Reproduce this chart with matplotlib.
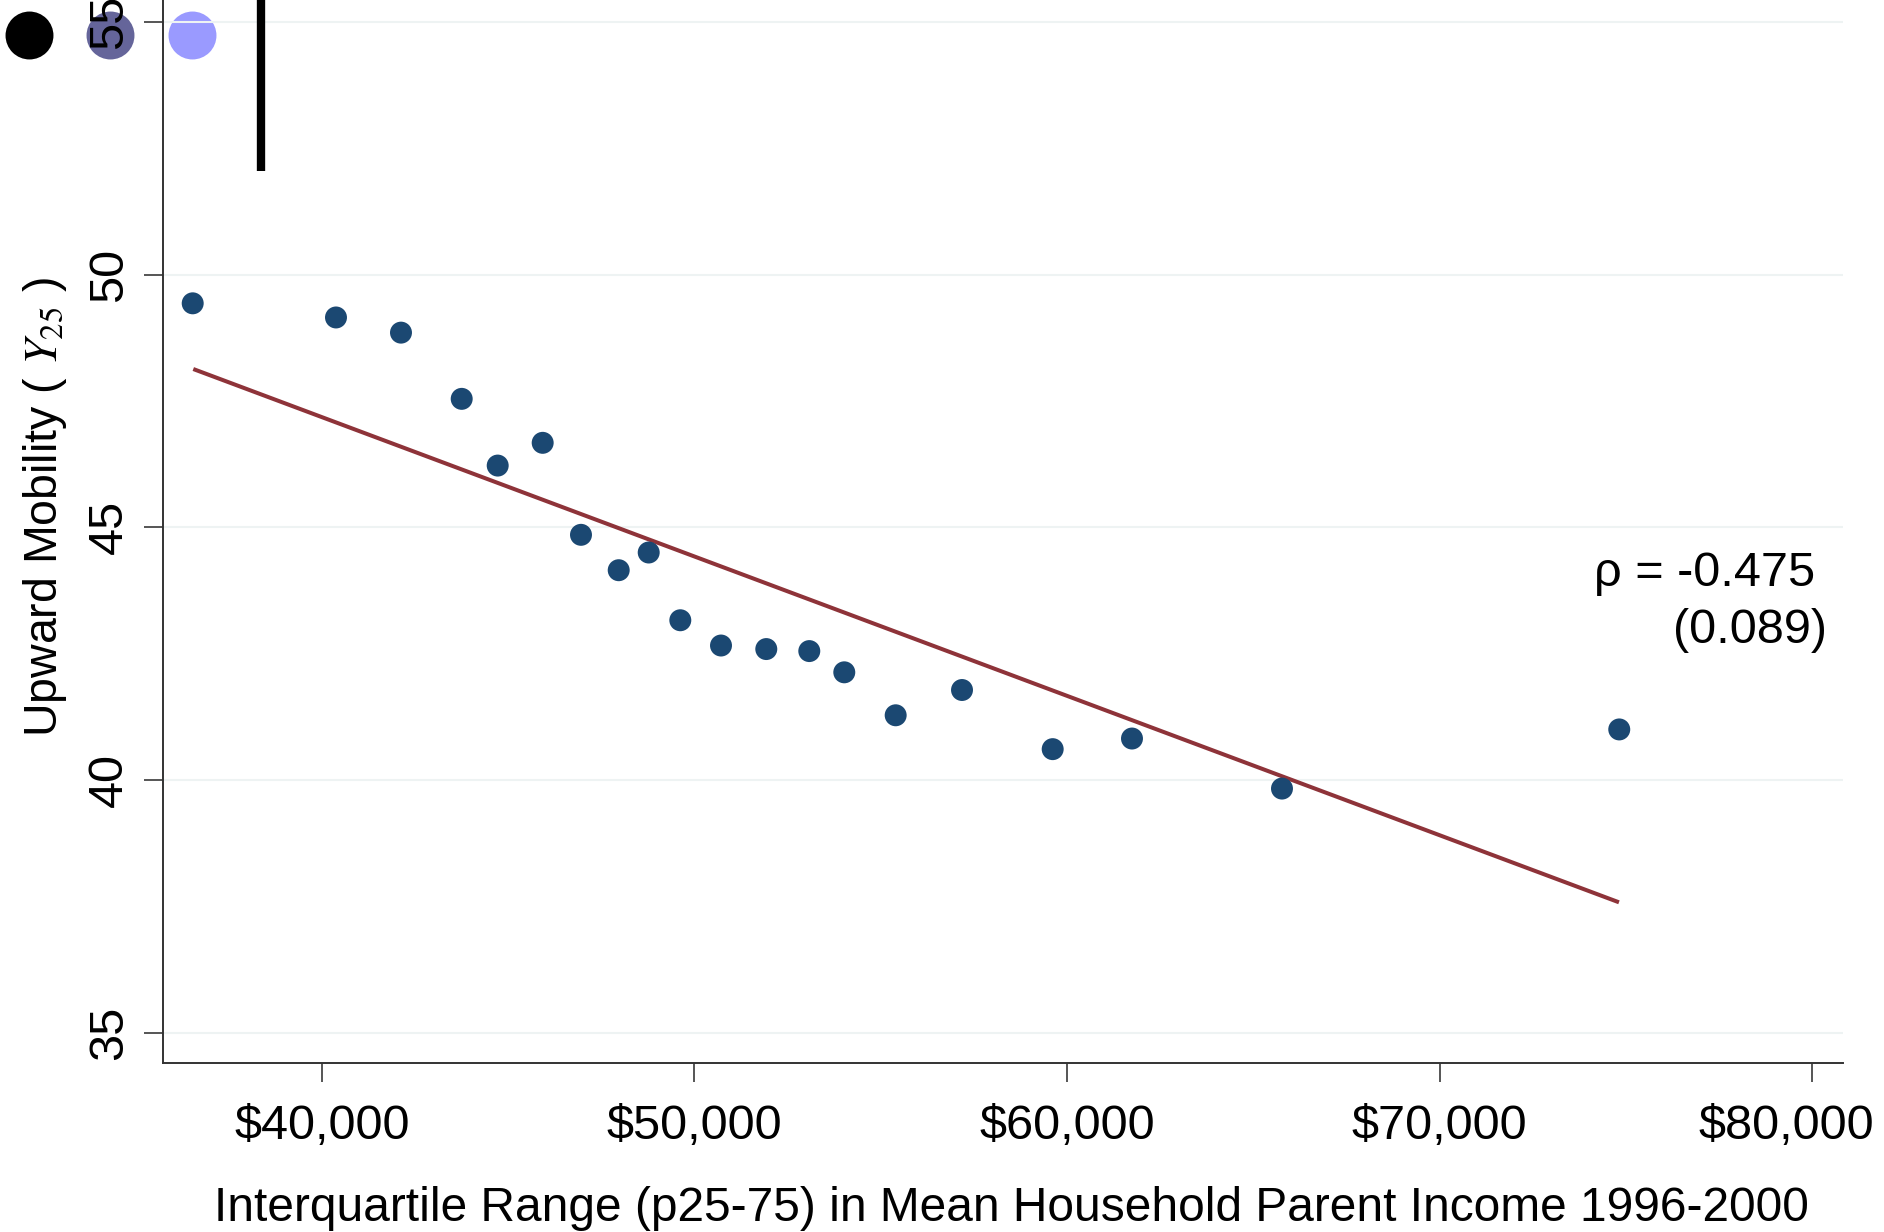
import matplotlib
matplotlib.use("Agg")
import matplotlib.pyplot as plt
from matplotlib.lines import Line2D
import matplotlib.transforms as mtransforms
import numpy as np

# ---- data ----
income = [36536, 40381, 42125, 43754, 44720, 45927, 46955, 47967, 48772, 49620,
          50712, 51927, 53081, 54020, 55399, 57179, 59612, 61740, 65765, 74815]
mobility = [49.43, 49.15, 48.85, 47.54, 46.22, 46.67, 44.85, 44.15, 44.50, 43.16,
            42.66, 42.59, 42.55, 42.13, 41.28, 41.78, 40.61, 40.82, 39.83, 41.00]
fit_x = [36552, 74807]
fit_y = [48.13, 37.58]
xticks = [40000, 50000, 60000, 70000, 80000]
xtick_labels = ["$40,000", "$50,000", "$60,000", "$70,000", "$80,000"]
yticks = [35, 40, 45, 50, 55]
ytick_labels = ["35", "40", "45", "50", "55"]
rho_text = "\u03c1 = -0.475"
se_text = "(0.089)"

plt.rcParams['font.family'] = ['Liberation Sans', 'DejaVu Sans']
plt.rcParams['mathtext.fontset'] = 'stix'

W, H = 1884, 1232
fig = plt.figure(figsize=(W / 100, H / 100), dpi=100)
fig.patch.set_facecolor('white')

left_px, right_px, bottom_px, top_px = 162.7, 1842.6, 1063.3, -49.0
ax = fig.add_axes([left_px / W, (H - bottom_px) / H,
                   (right_px - left_px) / W, (bottom_px - top_px) / H])
ax.patch.set_visible(False)

ax.set_xlim(35731, 80808)
ax.set_ylim(34.395, 56.40)

for yv in yticks:
    ax.axhline(yv, color='#eef3f3', lw=1.5, zorder=0)

ax.plot(fit_x, fit_y, color='#8e3339', lw=2.9, zorder=2, solid_capstyle='butt')
ax.scatter(income, mobility, s=250, color='#1b4872', edgecolors='none', zorder=3)

ax.text(80066, 43.83, rho_text, fontsize=35, ha='right', va='baseline')
ax.text(80388, 42.71, se_text, fontsize=35, ha='right', va='baseline')

ax.set_xticks(xticks)
ax.set_xticklabels(xtick_labels, fontsize=35)
ax.set_yticks(yticks)
ax.set_yticklabels(ytick_labels, fontsize=35, rotation=90, va='center')

ax.tick_params(axis='both', direction='out', length=14, width=1.4, color='#555555')
ax.tick_params(axis='x', pad=15)
ax.tick_params(axis='y', pad=8)

# last x tick label is pulled inward so it fits in the figure
last = ax.get_xticklabels()[-1]
last.set_transform(last.get_transform() +
                   mtransforms.ScaledTranslation(-26 / 100, 0, fig.dpi_scale_trans))

for side in ['top', 'right']:
    ax.spines[side].set_visible(False)
for side in ['left', 'bottom']:
    ax.spines[side].set_color('#333333')
    ax.spines[side].set_linewidth(1.4)

ax.set_xlabel("Interquartile Range (p25-75) in Mean Household Parent Income 1996-2000",
              fontsize=34.5, labelpad=27)
ax.xaxis.label.set_x(0.505)
ax.set_ylabel("Upward Mobility ( $Y_{25}$ )", fontsize=33.5, labelpad=13)

# ---- stray legend-like artifacts at the top left ----
legend_x_px = [29, 110, 191.7]
legend_colors = ['#000000', '#65659a', '#9a9aff']
for xp, c in zip(legend_x_px, legend_colors):
    fig.add_artist(Line2D([xp / W], [(H - 34.7) / H], marker='o', markersize=34.5,
                          color=c, markeredgewidth=0, linestyle='none',
                          transform=fig.transFigure, zorder=-1))
fig.add_artist(Line2D([261 / W, 261 / W], [1.0, (H - 170.7) / H], color='black',
                      lw=6, transform=fig.transFigure, solid_capstyle='butt'))

fig.savefig("out.png", dpi=100)
